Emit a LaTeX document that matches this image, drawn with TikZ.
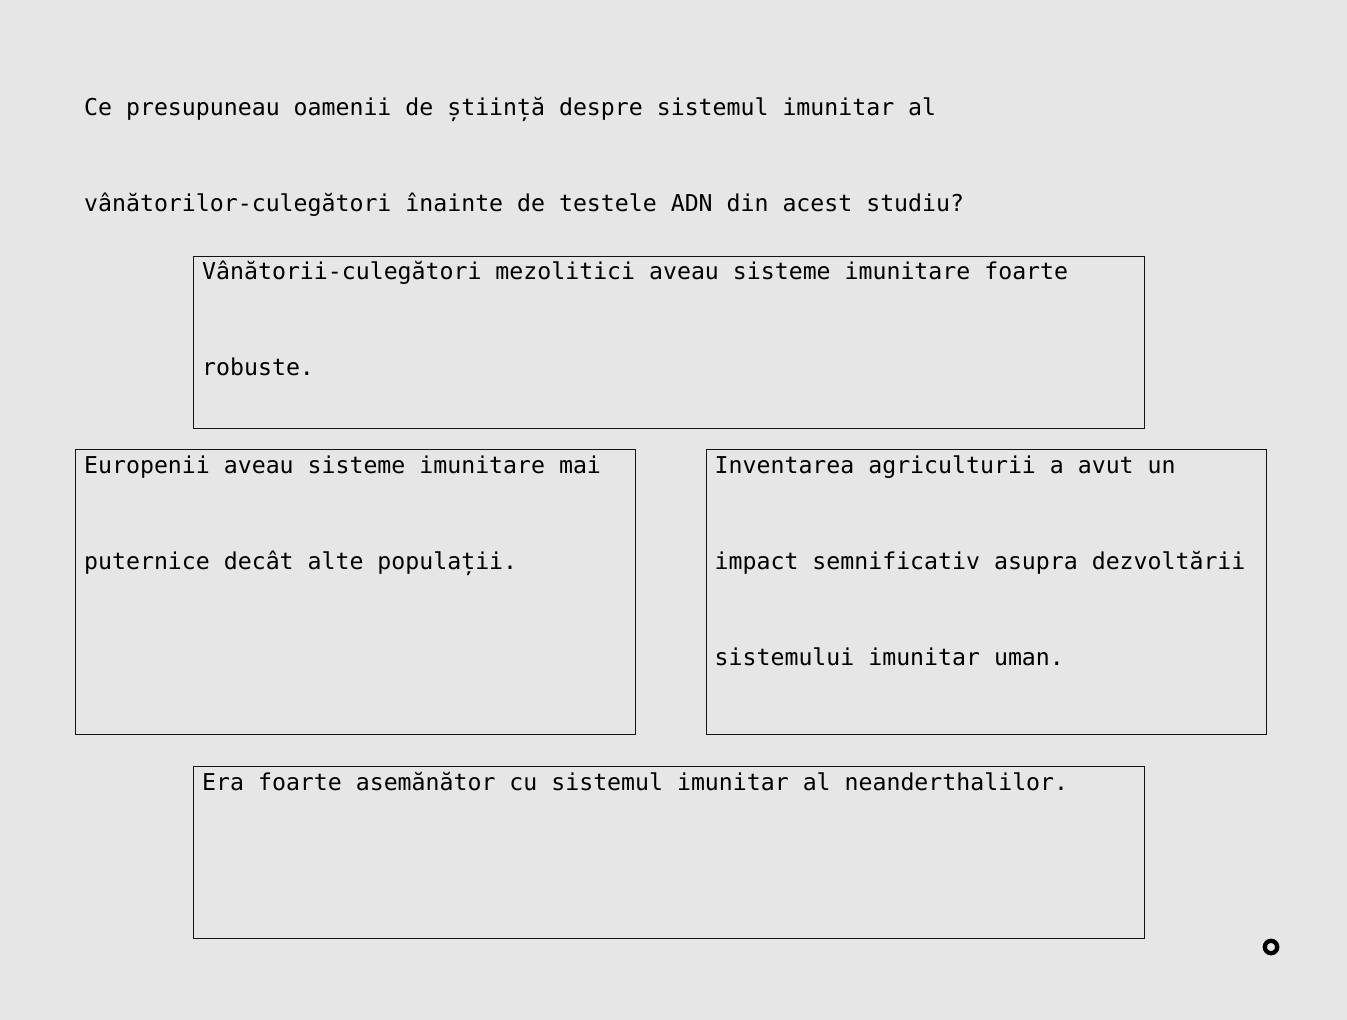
\documentclass[tikz,border=0pt]{standalone}
\usepackage{fontspec}
\setmonofont{DejaVu Sans Mono}
\definecolor{bg}{RGB}{230,230,230}
\definecolor{ink}{RGB}{20,20,20}
\begin{document}
\begin{tikzpicture}[x=1pt,y=-1pt,
  txt/.style={anchor=base west,inner sep=0pt,align=left,text=black,
    font=\ttfamily\fontsize{23.2}{96}\selectfont},
  card/.style={draw=ink,line width=1pt}]
\fill[bg] (0,0) rectangle (1347,1020);
\useasboundingbox (0,0) rectangle (1347,1020);
% anchor base = baseline of the last line
\node[txt] (title) at (84,211) {Ce presupuneau oamenii de știință despre sistemul imunitar al\\vânătorilor-culegători înainte de testele ADN din acest studiu?};
\draw[card] (193.5,256.5) rectangle (1144.5,428.5);
\node[txt] (a) at (202,375) {Vânătorii-culegători mezolitici aveau sisteme imunitare foarte\\robuste.};
\draw[card] (75,449) rectangle (635.5,734.5);
\node[txt] (b) at (84,569) {Europenii aveau sisteme imunitare mai\\puternice decât alte populații.};
\draw[card] (706,449) rectangle (1266.5,734.5);
\node[txt] (c) at (714.5,665) {Inventarea agriculturii a avut un\\impact semnificativ asupra dezvoltării\\sistemului imunitar uman.};
\draw[card] (193.5,766) rectangle (1144.5,938.5);
\node[txt] (d) at (202,790) {Era foarte asemănător cu sistemul imunitar al neanderthalilor.};
\draw[line width=4.3pt,black] (1271,947) circle (6.2);
\end{tikzpicture}
\end{document}
